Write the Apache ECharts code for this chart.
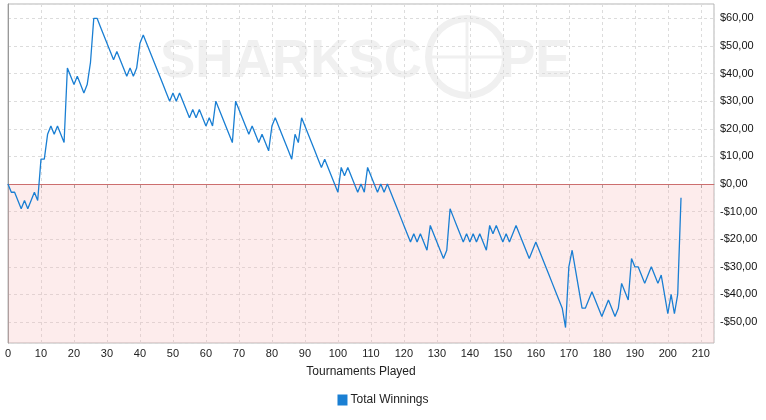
<!DOCTYPE html>
<html>
<head>
    <meta charset="utf-8">
    <title>Total Winnings</title>
    <script src="https://cdn.jsdelivr.net/npm/echarts@6/dist/echarts.min.js"></script>
    <style>
        html, body { margin: 0; padding: 0; background: #fff; }
    </style>
</head>
<body>
<div id="main" style="width: 766px;height:420px;"></div>
<script type="text/javascript">
    // cumulative winnings after each tournament (index = tournaments played)
    var winnings = [
        0, -3, -3, -6, -9, -6, -9, -6, -3, -6,
        9, 9, 18, 21, 18, 21, 18, 15, 42, 39,
        36, 39, 36, 33, 36, 44, 60, 60, 57, 54,
        51, 48, 45, 48, 45, 42, 39, 42, 39, 42,
        51, 54, 51, 48, 45, 42, 39, 36, 33, 30,
        33, 30, 33, 30, 27, 24, 27, 24, 27, 24,
        21, 24, 21, 30, 27, 24, 21, 18, 15, 30,
        27, 24, 21, 18, 21, 18, 15, 18, 15, 12,
        21, 24, 21, 18, 15, 12, 9, 18, 15, 24,
        21, 18, 15, 12, 9, 6, 9, 6, 3, 0,
        -3, 6, 3, 6, 3, 0, -3, 0, -3, 6,
        3, 0, -3, 0, -3, 0, -3, -6, -9, -12,
        -15, -18, -21, -18, -21, -18, -21, -24, -15, -18,
        -21, -24, -27, -24, -9, -12, -15, -18, -21, -18,
        -21, -18, -21, -18, -21, -24, -15, -18, -15, -18,
        -21, -18, -21, -18, -15, -18, -21, -24, -27, -24,
        -21, -24, -27, -30, -33, -36, -39, -42, -45, -52,
        -30, -24, -31, -38, -45, -45, -42, -39, -42, -45,
        -48, -45, -42, -45, -48, -45, -36, -39, -42, -27,
        -30, -30, -33, -36, -33, -30, -33, -36, -33, -40,
        -47, -40, -47, -40, -5
    ];
    var xMax = 214;
    var yMin = -57.6;
    var yMax = 65.2;

    var points = winnings.map(function (v, i) { return [i, v]; });

    function money(v) {
        var s = '$' + Math.abs(v).toFixed(2).replace('.', ',');
        return v < 0 ? '-' + s : s;
    }

    var myChart = echarts.init(document.getElementById('main'), null, {renderer: 'canvas'});
    var font = 'Liberation Sans, Arial, sans-serif';
    var mark = '#f0f0f0';

    var option = {
        animation: false,
        textStyle: { fontFamily: font },
        // faint logo watermark behind the plot
        graphic: [
            { type: 'text', left: 160, top: 36, z: -1, silent: true,
              style: { text: 'SHARKSC', fill: mark, font: 'bold 53px ' + font } },
            { type: 'text', left: 500, top: 36, z: -1, silent: true,
              style: { text: 'PE', fill: mark, font: 'bold 53px ' + font } },
            { type: 'ring', z: -1, silent: true,
              shape: { cx: 467, cy: 57, r: 42, r0: 35 }, style: { fill: mark } },
            { type: 'line', z: -1, silent: true,
              shape: { x1: 467, y1: 22, x2: 467, y2: 92 }, style: { stroke: mark, lineWidth: 3 } },
            { type: 'line', z: -1, silent: true,
              shape: { x1: 432, y1: 57, x2: 502, y2: 57 }, style: { stroke: mark, lineWidth: 3 } }
        ],
        grid: {
            left: 8,
            right: 52,
            top: 4,
            bottom: 77,
            show: true,
            borderColor: '#b4b4b4',
            borderWidth: 1
        },
        legend: {
            top: 389,
            left: 'center',
            icon: 'rect',
            itemWidth: 10,
            itemHeight: 11,
            itemGap: 6,
            textStyle: { color: '#222', fontSize: 12, fontFamily: font, padding: [0, 0, 0, -2] },
            data: ['Total Winnings']
        },
        xAxis: {
            type: 'value',
            min: 0,
            max: xMax,
            interval: 10,
            name: 'Tournaments Played',
            nameLocation: 'middle',
            nameGap: 23,
            nameTextStyle: { color: '#222', fontSize: 12, fontFamily: font },
            axisLine: { lineStyle: { color: '#999' } },
            axisTick: { show: true, length: 4, lineStyle: { color: '#999' } },
            axisLabel: { color: '#222', fontSize: 11, margin: 5, showMaxLabel: false, fontFamily: font },
            splitLine: { show: true, lineStyle: { color: '#dcdcdc', type: [3, 3] } }
        },
        yAxis: {
            type: 'value',
            position: 'right',
            min: yMin,
            max: yMax,
            splitNumber: 12,
            axisLine: { show: true, lineStyle: { color: '#999' } },
            axisTick: { show: false },
            axisLabel: {
                color: '#111', fontSize: 11, margin: 6, fontFamily: font,
                showMinLabel: false, showMaxLabel: false,
                formatter: money
            },
            splitLine: { show: true, lineStyle: { color: '#dcdcdc', type: [3, 3] } }
        },
        series: [{
            name: 'Total Winnings',
            type: 'line',
            data: points,
            showSymbol: false,
            symbol: 'none',
            color: '#1a7fd3',
            lineStyle: { width: 1.3, color: '#1a7fd3' },
            z: 5,
            markArea: {
                silent: true,
                itemStyle: { color: 'rgba(248,180,180,0.25)' },
                data: [[{ yAxis: 0 }, { yAxis: yMin }]]
            },
            markLine: {
                silent: true,
                symbol: 'none',
                label: { show: false },
                lineStyle: { color: '#cc6e6e', type: 'solid', width: 1 },
                data: [{ yAxis: 0 }]
            }
        }]
    };

    myChart.setOption(option);
</script>
</body>
</html>
